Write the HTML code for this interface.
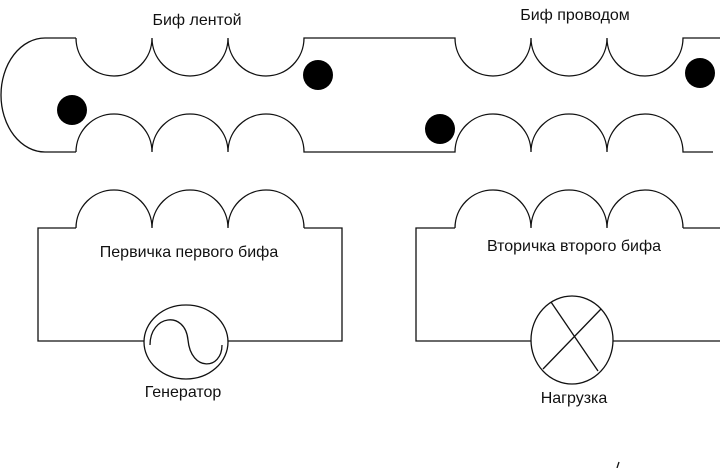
<!DOCTYPE html>
<html><head><meta charset="utf-8"><style>
html,body{margin:0;padding:0;background:#fff;}
svg{display:block;}
text{font-family:"Liberation Sans","DejaVu Sans",sans-serif;font-size:16px;fill:#111;}
</style></head><body>
<svg width="720" height="468" viewBox="0 0 720 468">
<g fill="none" stroke="#111" stroke-width="1.3">
<path d="M76,38 L45,38 A44,57 0 0 0 45,152 L76,152"/>
<path d="M76,38 A38,38 0 0 0 152,38 A38,38 0 0 0 228,38 A38,38 0 0 0 304,38 L455,38 A38,38 0 0 0 531,38 A38,38 0 0 0 607,38 A38,38 0 0 0 683,38 L720,38"/>
<path d="M76,152 A38,38 0 0 1 152,152 A38,38 0 0 1 228,152 A38,38 0 0 1 304,152 L455,152 A38,38 0 0 1 531,152 A38,38 0 0 1 607,152 A38,38 0 0 1 683,152 L713,152"/>
<path d="M76,228 L38,228 L38,341 L144,341 M228,341 L342,341 L342,228 L304,228"/>
<path d="M76,228 A38,38 0 0 1 152,228 A38,38 0 0 1 228,228 A38,38 0 0 1 304,228"/>
<ellipse cx="186" cy="342" rx="42" ry="37"/>
<path d="M150,345 C150,315 185,310 188,340 C191,372 222,370 222,345"/>
<path d="M455,228 L416,228 L416,341 L531,341 M613,341 L720,341 M683,228 L720,228"/>
<path d="M455,228 A38,38 0 0 1 531,228 A38,38 0 0 1 607,228 A38,38 0 0 1 683,228"/>
<ellipse cx="572" cy="340" rx="41" ry="44"/>
<line x1="551" y1="302" x2="598" y2="371"/>
<line x1="601" y1="309" x2="543" y2="369"/>
<line x1="617" y1="468" x2="619" y2="462"/>
</g>
<g fill="#000">
<circle cx="72" cy="110" r="15"/>
<circle cx="318" cy="75" r="15"/>
<circle cx="440" cy="129" r="15"/>
<circle cx="700" cy="73" r="15"/>
</g>
<text x="197" y="25" text-anchor="middle">Биф лентой</text>
<text x="575" y="20" text-anchor="middle">Биф проводом</text>
<text x="189" y="257" text-anchor="middle">Первичка первого бифа</text>
<text x="574" y="251" text-anchor="middle">Вторичка второго бифа</text>
<text x="183" y="397" text-anchor="middle">Генератор</text>
<text x="574" y="403" text-anchor="middle">Нагрузка</text>
</svg>
</body></html>
